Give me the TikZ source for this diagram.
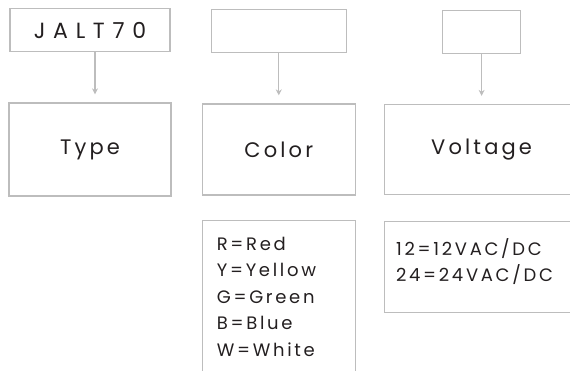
\documentclass[tikz,border=0pt]{standalone}
\usepackage{fontspec}
\setmainfont{Poppins}[LetterSpace=15]
\newfontfamily\modelfont{Poppins}[LetterSpace=35]
\usetikzlibrary{arrows.meta, positioning}
\definecolor{boxgray}{HTML}{BDBDBD}
\definecolor{inkdark}{HTML}{231F20}

\begin{document}
\begin{tikzpicture}[x=1pt, y=1pt, >=Stealth, node distance=50pt,
	box/.style={draw=boxgray, line width=1.3pt, rectangle, inner sep=0pt},
	partname/.style={text=inkdark, font=\fontsize{21}{25}\selectfont},
	codelist/.style={text=inkdark, align=left, anchor=north west, inner sep=0pt, font=\fontsize{18}{26.5}\selectfont},
	arr/.style={-{Stealth[length=6pt, width=6pt]}, draw=boxgray, line width=1.3pt, shorten >=8pt}]
	
	\useasboundingbox (0,0) rectangle (570,-371);
	\clip (0,0) rectangle (570,-371);
	
	% 中间一行: 各部分名称
	\node[box, partname, minimum width=162pt, minimum height=93pt] (type) at (90,-149.5) {Type};
	\node[box, partname, minimum width=153pt, minimum height=91pt, right=30pt of type] (color) {Color};
	\node[box, partname, minimum width=194pt, minimum height=90pt, right=28pt of color] (voltage) {Voltage};
	
	% 上面一行: 型号和空白代码框
	\node[box, text=inkdark, font=\modelfont\fontsize{22}{26}\selectfont, minimum width=160pt, minimum height=43pt, above=50pt of type] (model) {JALT70};
	\node[box, minimum width=135pt, minimum height=43pt, above=50pt of color] (colorcode) {};
	\node[box, minimum width=78pt, minimum height=43pt, above=50pt of voltage] (voltcode) {};
	
	% 箭头
	\draw[arr] ([xshift=5pt]model.south) -- ([xshift=5pt]type.north);
	\draw[arr] (colorcode) -- (color);
	\draw[arr] (voltcode) -- (voltage);
	
	% 下面一行: 代码说明
	\node[box, minimum width=153pt, minimum height=180pt, below=24pt of color, anchor=north] (colorlist) {};
	\node[codelist] (colortext) at ([shift={(15pt,-17pt)}]colorlist.north west) {R=Red\\Y=Yellow\\G=Green\\B=Blue\\W=White};
	
	\node[box, minimum width=194pt, minimum height=91pt, below=26pt of voltage] (voltlist) {};
	\node[codelist] (volttext) at ([shift={(12pt,-17pt)}]voltlist.north west) {12=12VAC/DC\\24=24VAC/DC};
	
\end{tikzpicture}
\end{document}
